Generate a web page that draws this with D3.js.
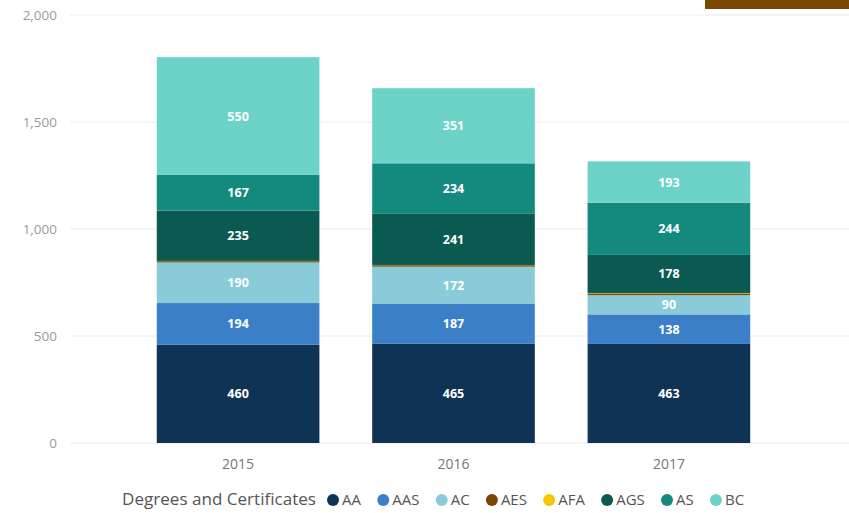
<!DOCTYPE html>
<html><head><meta charset="utf-8">
<script src="https://cdn.jsdelivr.net/npm/d3@7"></script>
<style>body{margin:0;background:#fff;} svg{display:block;}</style>
</head><body>
<svg id="c" width="849" height="513"></svg>
<script>
const years = ["2015", "2016", "2017"];
const seriesNames = ["AA", "AAS", "AC", "AES", "AFA", "AGS", "AS", "BC"];
const AA  = [460, 465, 463];
const AAS = [194, 187, 138];
const AC  = [190, 172, 90];
const AES = [6, 7, 8];
const AFA = [1, 1, 2];
const AGS = [235, 241, 178];
const AS  = [167, 234, 244];
const BC  = [550, 351, 193];
const yTicks = [0, 500, 1000, 1500, 2000];
const colors = ["#0f3354", "#3b7fc8", "#8acbd9", "#7a4700", "#f6c700", "#0b5a52", "#138a7d", "#6dd3c9"];

const seriesVals = [AA, AAS, AC, AES, AFA, AGS, AS, BC];
const rows = years.map((y, i) => {
  const r = {year: y};
  seriesNames.forEach((s, k) => r[s] = seriesVals[k][i]);
  return r;
});
const stacked = d3.stack().keys(seriesNames)(rows);

const svg = d3.select("#c");
// decorative header bar
svg.append("rect").attr("x", 705).attr("y", 0).attr("width", 144).attr("height", 9).attr("fill", "#7a4700");

const y = d3.scaleLinear().domain([0, 2000]).range([443, 15]);
const x = d3.scaleBand().domain(years).range([104, 803]).paddingInner(0.245).paddingOuter(0.245);

// gridlines
svg.append("g").selectAll("line").data(yTicks).join("line")
  .attr("x1", 70).attr("x2", 849)
  .attr("y1", d => y(d)).attr("y2", d => y(d))
  .attr("stroke", "#ececec").attr("stroke-width", 1);

// y axis labels
const yAxis = svg.append("g").attr("transform", "translate(57,0)")
  .call(d3.axisLeft(y).tickValues(yTicks).tickSize(0).tickPadding(0).tickFormat(d3.format(",")));
yAxis.select(".domain").remove();
yAxis.selectAll("text").attr("fill", "#9a9a9a").style("font-family", "'Open Sans', sans-serif").style("font-size", "13.5px");

// x axis labels
const xAxis = svg.append("g").attr("transform", "translate(0,459)")
  .call(d3.axisBottom(x).tickSize(0).tickPadding(0));
xAxis.select(".domain").remove();
xAxis.selectAll("text").attr("fill", "#777").style("font-family", "'Open Sans', sans-serif").style("font-size", "14px");

// bars
const layers = svg.append("g").selectAll("g").data(stacked).join("g")
  .attr("fill", (d, i) => colors[i]);
layers.selectAll("rect").data(d => d).join("rect")
  .attr("x", d => x(d.data.year))
  .attr("width", x.bandwidth())
  .attr("y", d => y(d[1]))
  .attr("height", d => y(d[0]) - y(d[1]));

// labels
const labelKeys = new Set(["AA", "AAS", "AC", "AGS", "AS", "BC"]);
svg.append("g").selectAll("g").data(stacked.filter(s => labelKeys.has(s.key))).join("g")
  .selectAll("text").data(d => d).join("text")
  .attr("x", d => x(d.data.year) + x.bandwidth() / 2)
  .attr("y", d => (y(d[0]) + y(d[1])) / 2)
  .attr("dy", "0.36em")
  .attr("text-anchor", "middle")
  .attr("fill", "#fff")
  .style("font-family", "'Open Sans', sans-serif")
  .style("font-weight", "700")
  .style("font-size", "12.5px")
  .text(d => d[1] - d[0]);

// legend
const lg = svg.append("g").attr("transform", "translate(122,500)");
lg.append("text").attr("x", 0).attr("dy", "0.35em")
  .attr("fill", "#555").style("font-family", "'Open Sans', sans-serif").style("font-size", "15.5px")
  .attr("textLength", 194).attr("lengthAdjust", "spacingAndGlyphs")
  .text("Degrees and Certificates");
const firstC = 211, lastC = 594;
const items = seriesNames.map((s, i) => {
  const t = lg.append("text").attr("dy", "0.35em")
    .attr("fill", "#555").style("font-family", "'Open Sans', sans-serif").style("font-size", "15px")
    .text(s);
  return {t, w: t.node().getComputedTextLength(), i};
});
const sumW = items.slice(0, -1).reduce((a, b) => a + b.w, 0);
const step = (lastC - firstC - sumW) / (items.length - 1);
let cx = firstC;
items.forEach(it => {
  lg.append("circle").attr("cx", cx).attr("cy", 0).attr("r", 6).attr("fill", colors[it.i]);
  it.t.attr("x", cx + 9);
  cx += it.w + step;
});
</script>
</body></html>
